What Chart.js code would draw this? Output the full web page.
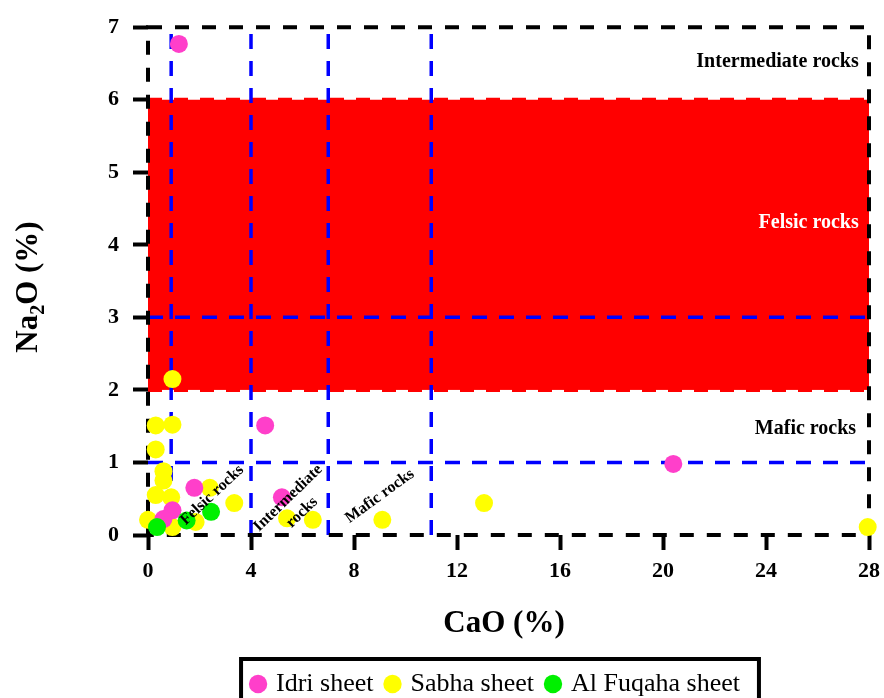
<!DOCTYPE html>
<html>
<head>
<meta charset="utf-8">
<script src="https://cdn.jsdelivr.net/npm/chart.js@4.4.1/dist/chart.umd.min.js"></script>
<style>
    html, body { margin: 0; padding: 0; background: #fff; }
    #contenedor { width: 884px; height: 698px; position: relative; }
</style>
</head>
<body>
<div id="contenedor"><canvas id="grafico"></canvas></div>
<script>
const xTicks = [0, 4, 8, 12, 16, 20, 24, 28];
const yTicks = [0, 1, 2, 3, 4, 5, 6, 7];

const idriCaO = [1.2, 4.55, 20.4, 1.8, 5.2, 0.95, 0.6];
const idriNa2O = [6.77, 1.51, 0.98, 0.65, 0.52, 0.34, 0.22];

const sabhaCaO = [0.95, 0.3, 0.95, 0.3, 0.6, 0.6, 0.3, 0.9, 2.4, 3.35, 0, 0.95, 1.85, 5.4, 6.4, 9.1, 13.05, 27.95];
const sabhaNa2O = [2.15, 1.51, 1.52, 1.18, 0.88, 0.75, 0.55, 0.52, 0.65, 0.44, 0.21, 0.11, 0.18, 0.23, 0.21, 0.21, 0.44, 0.11];

const fuqahaCaO = [0.35, 1.5, 2.45];
const fuqahaNa2O = [0.11, 0.2, 0.32];

// limites de los campos del diagrama
const bandaFelsica = [2, 6];
const limitesCaO = [0.9, 4, 7, 11];
const limitesNa2O = [1, 3];

const serif = '"Liberation Serif", "Times New Roman", serif';
const padAbajo = -9;
const corrimientoLeyenda = 62;

function puntos(xs, ys) {
    return xs.map((v, i) => ({x: v, y: ys[i]}));
}

const zonas = {
    id: 'zonas',
    afterLayout(chart) {
        // mover la leyenda bajo el area del grafico
        const lg = chart.legend;
        lg.left += corrimientoLeyenda;
        lg.right += corrimientoLeyenda;
    },
    beforeDatasetsDraw(chart) {
        const {ctx, chartArea: a, scales: {x, y}} = chart;
        ctx.save();
        // banda roja
        const arriba = y.getPixelForValue(bandaFelsica[1]);
        const abajo = y.getPixelForValue(bandaFelsica[0]);
        const l = x.getPixelForValue(0), r = x.getPixelForValue(28);
        ctx.fillStyle = '#ff0000';
        ctx.fillRect(l, arriba, r - l, abajo - arriba);
        ctx.strokeStyle = '#ff0000';
        ctx.lineWidth = 4;
        ctx.setLineDash([14, 12]);
        ctx.beginPath();
        ctx.moveTo(l, arriba); ctx.lineTo(r, arriba);
        ctx.moveTo(l, abajo); ctx.lineTo(r, abajo);
        ctx.stroke();

        // lineas azules
        ctx.strokeStyle = '#0000ff';
        ctx.lineWidth = 3.5;
        ctx.setLineDash([15, 12]);
        ctx.beginPath();
        limitesCaO.forEach(c => {
            const px = x.getPixelForValue(c);
            ctx.moveTo(px, y.getPixelForValue(0));
            ctx.lineTo(px, y.getPixelForValue(7));
        });
        limitesNa2O.forEach(n => {
            const py = y.getPixelForValue(n);
            ctx.moveTo(x.getPixelForValue(0), py);
            ctx.lineTo(x.getPixelForValue(28), py);
        });
        ctx.stroke();

        // marco negro punteado
        ctx.strokeStyle = '#000';
        ctx.lineWidth = 4;
        ctx.setLineDash([14, 13]);
        ctx.strokeRect(a.left, a.top, a.right - a.left, a.bottom - a.top);
        ctx.restore();
    },
    afterDatasetsDraw(chart) {
        const {ctx, scales: {x, y}} = chart;
        ctx.save();
        ctx.font = 'bold 20px ' + serif;
        ctx.textAlign = 'right';
        ctx.textBaseline = 'middle';
        ctx.fillStyle = '#000';
        ctx.fillText('Intermediate rocks', x.getPixelForValue(27.6), y.getPixelForValue(6.52));
        ctx.fillText('Mafic rocks', x.getPixelForValue(27.5), y.getPixelForValue(1.47));
        ctx.fillStyle = '#fff';
        ctx.fillText('Felsic rocks', x.getPixelForValue(27.6), y.getPixelForValue(4.31));

        const rotado = (lineas, cx, cy, grados) => {
            ctx.save();
            ctx.translate(x.getPixelForValue(cx), y.getPixelForValue(cy));
            ctx.rotate(grados * Math.PI / 180);
            ctx.font = 'bold 16px ' + serif;
            ctx.textAlign = 'center';
            ctx.fillStyle = '#000';
            const alto = 20;
            lineas.forEach((t, i) => {
                ctx.fillText(t, 0, (i - (lineas.length - 1) / 2) * alto);
            });
            ctx.restore();
        };
        rotado(['Felsic rocks'], 2.49, 0.55, -43);
        rotado(['Intermediate', 'rocks'], 5.71, 0.41, -44);
        rotado(['Mafic rocks'], 9.0, 0.535, -36);

        // titulos de ejes
        ctx.fillStyle = '#000';
        ctx.textAlign = 'center';
        ctx.textBaseline = 'alphabetic';
        ctx.font = 'bold 31px ' + serif;
        ctx.fillText('CaO (%)', 504, 632);

        ctx.translate(37, 287);
        ctx.rotate(-Math.PI / 2);
        ctx.textAlign = 'left';
        const fGrande = 'bold 31px ' + serif, fChica = 'bold 20px ' + serif;
        ctx.font = fGrande;
        const w1 = ctx.measureText('Na').width;
        const w3 = ctx.measureText('O (%)').width;
        ctx.font = fChica;
        const w2 = ctx.measureText('2').width;
        let cx = -(w1 + w2 + w3) / 2;
        ctx.font = fGrande;
        ctx.fillText('Na', cx, 0);
        cx += w1;
        ctx.font = fChica;
        ctx.fillText('2', cx, 7);
        cx += w2;
        ctx.font = fGrande;
        ctx.fillText('O (%)', cx, 0);
        ctx.restore();
    },
    afterDraw(chart) {
        const cajas = chart.legend.legendHitBoxes;
        if (!cajas || !cajas.length) return;
        const izq = Math.min(...cajas.map(c => c.left)) - 12;
        const der = Math.max(...cajas.map(c => c.left + c.width)) + 19;
        const cy = cajas[0].top + cajas[0].height / 2;
        const ctx = chart.ctx;
        ctx.save();
        ctx.strokeStyle = '#000';
        ctx.lineWidth = 4;
        ctx.strokeRect(izq, cy - 25, der - izq, 60);
        ctx.restore();
    }
};

const ctx = document.getElementById('grafico').getContext('2d');
new Chart(ctx, {
    type: 'scatter',
    data: {
        datasets: [{
                label: 'Idri sheet',
                data: puntos(idriCaO, idriNa2O),
                backgroundColor: '#ff3fca',
                borderWidth: 0,
                pointRadius: 9,
                order: 1,
                clip: false
            }, {
                label: 'Sabha sheet',
                data: puntos(sabhaCaO, sabhaNa2O),
                backgroundColor: '#ffff00',
                borderWidth: 0,
                pointRadius: 9,
                order: 2,
                clip: false
            }, {
                label: 'Al Fuqaha sheet',
                data: puntos(fuqahaCaO, fuqahaNa2O),
                backgroundColor: '#00f000',
                borderWidth: 0,
                pointRadius: 9,
                order: 0,
                clip: false
            }]
    },
    options: {
        responsive: true,
        maintainAspectRatio: false,
        animation: false,
        layout: {padding: {left: 0, right: 15, top: 25, bottom: padAbajo}},
        scales: {
            x: {
                type: 'linear',
                min: 0,
                max: 28,
                afterBuildTicks: s => { s.ticks = xTicks.map(v => ({value: v})); },
                afterFit: s => {
                    s.height = s.chart.height - padAbajo - s.chart.legend.height - 535;
                    s.paddingLeft = 0;
                    s.paddingRight = 0;
                },
                ticks: {color: '#000', padding: 8, font: {family: serif, size: 22, weight: 'bold'}},
                grid: {drawOnChartArea: false, drawTicks: true, tickLength: 15, tickWidth: 4, tickColor: '#000'},
                border: {display: false}
            },
            y: {
                type: 'linear',
                min: 0,
                max: 7,
                afterBuildTicks: s => { s.ticks = yTicks.map(v => ({value: v})); },
                afterFit: s => { s.width = 148; },
                ticks: {color: '#000', padding: 14, font: {family: serif, size: 22, weight: 'bold'}},
                grid: {drawOnChartArea: false, drawTicks: true, tickLength: 15, tickWidth: 4, tickColor: '#000'},
                border: {display: false}
            }
        },
        plugins: {
            legend: {
                position: 'bottom',
                labels: {
                    usePointStyle: true,
                    pointStyle: 'circle',
                    boxWidth: 10,
                    boxHeight: 13,
                    padding: 14,
                    color: '#000',
                    font: {family: serif, size: 26},
                    sort: (a, b) => a.datasetIndex - b.datasetIndex
                }
            },
            tooltip: {enabled: false}
        }
    },
    plugins: [zonas]
});
</script>
</body>
</html>
